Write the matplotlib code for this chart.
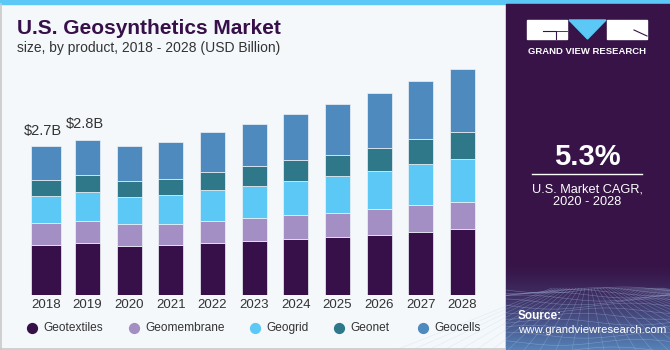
import numpy as np
import matplotlib
matplotlib.use('Agg')
import matplotlib.pyplot as plt
from matplotlib.patches import Rectangle, Polygon

plt.rcParams['font.family'] = ['Liberation Sans', 'DejaVu Sans']

# data (USD Billion)
years = ['2018', '2019', '2020', '2021', '2022', '2023',
         '2024', '2025', '2026', '2027', '2028']
products = ['Geotextiles', 'Geomembrane', 'Geogrid', 'Geonet', 'Geocells']
geotextiles = [0.91, 0.94, 0.90, 0.91, 0.95, 0.98, 1.02, 1.06, 1.10, 1.15, 1.20]
geomembrane = [0.40, 0.41, 0.39, 0.39, 0.40, 0.42, 0.43, 0.44, 0.46, 0.48, 0.49]
geogrid = [0.50, 0.53, 0.50, 0.52, 0.56, 0.59, 0.63, 0.66, 0.70, 0.75, 0.79]
geonet = [0.29, 0.30, 0.29, 0.30, 0.33, 0.35, 0.37, 0.39, 0.42, 0.46, 0.48]
geocells = [0.61, 0.65, 0.64, 0.67, 0.72, 0.77, 0.84, 0.92, 0.99, 1.06, 1.15]
labelled_years = ['2018', '2019']
cagr = '5.3%'

series = [geotextiles, geomembrane, geogrid, geonet, geocells]
colors = ['#37104a', '#a38fc3', '#5bc8f5', '#2e7889', '#4f8abe']

W, H = 670, 350
fig = plt.figure(figsize=(W / 100, H / 100), dpi=100)

# background / decoration layer in pixel coords
bg = fig.add_axes([0, 0, 1, 1])
bg.set_xlim(0, W)
bg.set_ylim(H, 0)
bg.axis('off')
bg.add_patch(Rectangle((0, 0), W, H, color='#f4f8fb'))
bg.add_patch(Rectangle((0, 0), W, 4, color='#5bc8f5'))
bg.plot([0.7, 0.7], [4, H], color='#c9c9c9', lw=1.2)
bg.plot([0, 506], [H - 0.7, H - 0.7], color='#c9c9c9', lw=1.2)

# right panel
px0 = 506
bg.add_patch(Rectangle((px0, 4), W - px0, H - 4, color='#371347'))
grad = np.linspace(0, 1, 100)[:, None] ** 1.4
c1 = np.array([0x37, 0x13, 0x47]) / 255
c2 = np.array([0x55, 0x82, 0xb8]) / 255
img = c1 + (c2 - c1) * grad[..., None]
img = np.repeat(img, 2, axis=1)
bg.imshow(img, extent=[px0, W, H, 262], aspect='auto', zorder=2)
# faint perspective mesh
for k in range(14):
    yy = 290 + (k / 13) ** 1.7 * 60
    xs = np.linspace(px0, W, 60)
    bg.plot(xs, yy + 3 * np.sin((xs - px0) / 25 + k), color='#b5d0ee',
            lw=0.4, alpha=0.4, zorder=3)
for k in range(-12, 26):
    bg.plot([588 + k * 3, 588 + k * 16], [288, H], color='#b5d0ee',
            lw=0.4, alpha=0.35, zorder=3)
bg.set_xlim(0, W)
bg.set_ylim(H, 0)

# logo
bg.add_patch(Rectangle((527, 20), 40, 19, color='white', zorder=4))
bg.add_patch(Rectangle((607, 20), 40, 19, color='white', zorder=4))
bg.add_patch(Polygon([(569, 20), (606, 20), (587.5, 39)],
                     color='#5bc8f5', zorder=4))
bg.plot([543, 556, 556], [31, 31, 39], color='#371347', lw=0.8, zorder=5)
bg.plot([556, 567], [31, 31], color='#371347', lw=0.6, zorder=5)
bg.plot([634, 647], [30, 36], color='#371347', lw=0.8, zorder=5)
bg.text(587, 51, 'GRAND VIEW RESEARCH', color='white', fontsize=6.8,
        fontweight='bold', ha='center', va='center', zorder=5)

bg.text(587, 157, cagr, color='white', fontsize=21, fontweight='bold',
        ha='center', va='center', zorder=5)
bg.plot([532, 642], [173.5, 173.5], color='white', lw=1, zorder=5)
bg.text(587, 189, 'U.S. Market CAGR,', color='white', fontsize=9.2,
        ha='center', va='center', zorder=5)
bg.text(587, 202, '2020 - 2028', color='white', fontsize=9.2,
        ha='center', va='center', zorder=5)
bg.text(518, 316, 'Source:', color='white', fontsize=8.5, fontweight='bold',
        ha='left', va='center', zorder=5)
bg.text(518, 330, 'www.grandviewresearch.com', color='white', fontsize=8.2,
        ha='left', va='center', zorder=5)

# titles
bg.text(17, 29, 'U.S. Geosynthetics Market', color='#37104a', fontsize=15,
        fontweight='bold', ha='left', va='center')
bg.text(17, 48, 'size, by product, 2018 - 2028 (USD Billion)', color='#333333',
        fontsize=10, ha='left', va='center')

# legend
leg_x = [32, 134, 255, 339, 423]
for x, name, c in zip(leg_x, products, colors):
    bg.scatter([x], [328], s=50, color=c, zorder=5)
    bg.text(x + 11, 328, name, color='#333333', fontsize=8.6,
            ha='left', va='center')

# chart
unit = 41.67
bottom_px = 295
ymax = 4.5
px_per_b = 148.3 / 2.7
left_px = 45.8 - 0.6 * unit
ax = fig.add_axes([left_px / W, (H - bottom_px) / H, 11.2 * unit / W,
                   ymax * px_per_b / H])
ax.set_xlim(-0.6, 10.6)
ax.set_ylim(0, ymax)
ax.axis('off')

x = np.arange(len(years))
widths = [0.72] + [0.6] * (len(years) - 1)
base = np.zeros(len(years))
for vals, c in zip(series, colors):
    ax.bar(x, vals, bottom=base, width=widths, color=c,
           edgecolor='#eef3f8', linewidth=0.5)
    base += np.array(vals)

for i, yr in enumerate(years):
    ax.text(i, -0.18, yr, ha='center', va='center', fontsize=9.5,
            color='#333333')
    if yr in labelled_years:
        ax.text(i - 0.07, base[i] + 0.28, f'${base[i]:.1f}B', ha='center',
                va='center', fontsize=10.5, color='#333333')

fig.savefig('out.png', dpi=100)
